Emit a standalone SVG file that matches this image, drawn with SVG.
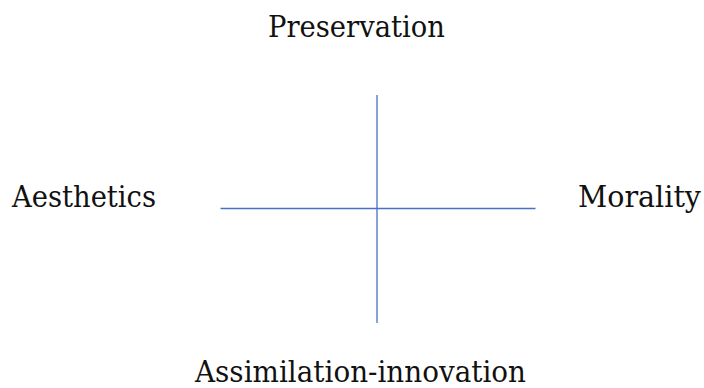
<svg xmlns="http://www.w3.org/2000/svg" width="704" height="388" viewBox="0 0 704 388">
<style>
.lbl{font-family:"DejaVu Serif","Liberation Serif",serif;font-size:29px;fill:#111;text-anchor:middle}
.ax{stroke:#4472C4;stroke-width:1.3;fill:none}
</style>
<rect width="704" height="388" fill="#fff"/>
<g id="connectors">
<line class="ax" x1="220.5" y1="208.5" x2="535.5" y2="208.5"/>
<line class="ax" x1="377" y1="95" x2="377" y2="323"/>
</g>
<g id="preservation"><text class="lbl" x="356.5" y="37" textLength="177" lengthAdjust="spacingAndGlyphs">Preservation</text></g>
<g id="aesthetics"><text class="lbl" x="84" y="207" textLength="144" lengthAdjust="spacingAndGlyphs">Aesthetics</text></g>
<g id="morality"><text class="lbl" x="639.5" y="207" textLength="123" lengthAdjust="spacingAndGlyphs">Morality</text></g>
<g id="assimilation"><text class="lbl" x="360.5" y="382" textLength="331" lengthAdjust="spacingAndGlyphs">Assimilation-innovation</text></g>
</svg>
